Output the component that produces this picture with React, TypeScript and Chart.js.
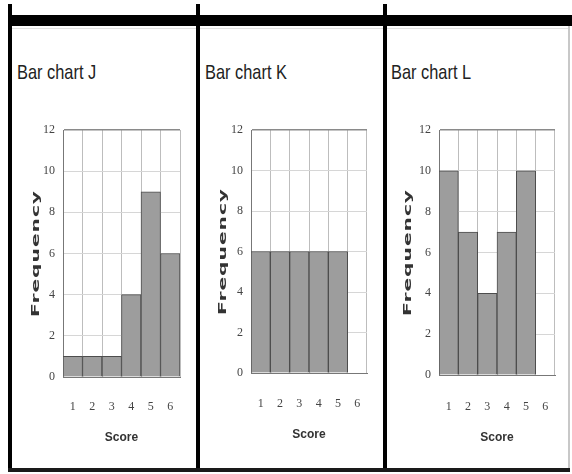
import React, { useEffect, useRef } from "react";
import { Chart, registerables } from "chart.js";

Chart.register(...registerables);

// ---- data ----
const scoreLabels = ["1", "2", "3", "4", "5", "6"];
const freqJ = [1, 1, 1, 4, 9, 6];
const freqK = [6, 6, 6, 6, 6, 0];
const freqL = [10, 7, 4, 7, 10, 0];
const yTickValues = [0, 2, 4, 6, 8, 10, 12];
const panelTitles = ["Bar chart J", "Bar chart K", "Bar chart L"];
const xAxisTitle = "Score";
const yAxisTitle = "Frequency";

// ---- layout (page pixels) ----
type Geom = {
  cLeft: number; cTop: number; cW: number; cH: number;
  pL: number; pR: number; pT: number; pB: number;
  fx: number; tickY: number; scoreY: number; titleX: number;
};
const geoms: Geom[] = [
  { cLeft: 13, cTop: 110, cW: 180, cH: 345, pL: 63, pR: 180, pT: 130, pB: 377, fx: 36, tickY: 407, scoreY: 438, titleX: 17 },
  { cLeft: 201, cTop: 110, cW: 180, cH: 345, pL: 251, pR: 367, pT: 130, pB: 373, fx: 223, tickY: 404, scoreY: 435, titleX: 205 },
  { cLeft: 388, cTop: 110, cW: 180, cH: 345, pL: 439, pR: 555, pT: 130, pB: 375, fx: 408, tickY: 407, scoreY: 438, titleX: 391 },
];

const TICK_FONT = { family: "'Liberation Serif', 'DejaVu Serif', serif", size: 12 };
const SCORE_FONT = { family: "'Liberation Sans', 'DejaVu Sans', sans-serif", size: 12, weight: "bold" as const };

function BarPanel({ values, g }: { values: number[]; g: Geom }) {
  const ref = useRef<HTMLCanvasElement>(null);
  useEffect(() => {
    const yW = g.pL - g.cLeft;
    const xH = g.cTop + g.cH - g.pB;
    const tickLH = TICK_FONT.size * 1.2;
    const scoreLH = SCORE_FONT.size * 1.2;
    const freqPlugin = {
      id: "freqTitle",
      afterDraw(chart: any) {
        const ctx = chart.ctx as CanvasRenderingContext2D;
        const { top, bottom } = chart.chartArea;
        ctx.save();
        ctx.translate(g.fx - g.cLeft, (top + bottom) / 2);
        ctx.rotate(-Math.PI / 2);
        ctx.font = "bold 11px 'DejaVu Sans', sans-serif";
        (ctx as any).letterSpacing = "0.5px";
        const w = ctx.measureText(yAxisTitle).width;
        ctx.scale(127 / w, 1);
        ctx.fillStyle = "#333";
        ctx.textAlign = "center";
        ctx.textBaseline = "middle";
        ctx.fillText(yAxisTitle, 0, 0);
        ctx.restore();
      },
    };
    const chart = new Chart(ref.current!, {
      type: "bar",
      data: {
        labels: scoreLabels,
        datasets: [
          {
            data: values,
            backgroundColor: "#9d9d9d",
            borderColor: "#4d4d4d",
            borderWidth: 1,
            barPercentage: 1,
            categoryPercentage: 1,
          },
        ],
      },
      options: {
        responsive: false,
        animation: false,
        layout: { padding: { top: g.pT - g.cTop, right: g.cLeft + g.cW - g.pR, left: 0, bottom: 0 } },
        plugins: { legend: { display: false }, tooltip: { enabled: false }, title: { display: false } },
        scales: {
          x: {
            grid: {
              offset: true,
              color: "#bdbdbd",
              drawTicks: true,
              tickLength: g.tickY - g.pB - tickLH / 2,
              tickColor: "rgba(0,0,0,0)",
              lineWidth: 1,
            },
            border: { display: true, color: "#777" },
            ticks: { padding: 0, font: TICK_FONT, color: "#444" },
            title: {
              display: true,
              text: xAxisTitle,
              font: SCORE_FONT,
              color: "#333",
              padding: { top: 0, bottom: g.cTop + g.cH - g.scoreY - scoreLH / 2 },
            },
            afterFit: (s: any) => { s.height = xH; },
          },
          y: {
            min: 0,
            max: 12,
            grid: {
              drawTicks: false,
              color: (c: any) => (c.tick && c.tick.value === 12 ? "#8a8a8a" : "#d6d6d6"),
              lineWidth: (c: any) => (c.tick && c.tick.value === 12 ? 1.5 : 1),
            },
            border: { display: true, color: "#777" },
            ticks: { padding: 8, font: TICK_FONT, color: "#444" },
            afterBuildTicks: (s: any) => { s.ticks = yTickValues.map((v) => ({ value: v })); },
            afterFit: (s: any) => { s.width = yW; },
          },
        },
      },
      plugins: [freqPlugin],
    } as any);
    return () => chart.destroy();
  }, [values, g]);
  return (
    <canvas
      ref={ref}
      width={g.cW}
      height={g.cH}
      style={{ position: "absolute", left: g.cLeft, top: g.cTop }}
    />
  );
}

const titleStyle = (x: number): React.CSSProperties => ({
  position: "absolute",
  left: x,
  top: 61,
  fontFamily: "'Liberation Sans', 'DejaVu Sans', sans-serif",
  fontSize: 21,
  lineHeight: "21px",
  color: "#222",
  whiteSpace: "nowrap",
  transform: "scaleX(0.78)",
  transformOrigin: "left top",
});

const line = (l: number, t: number, w: number, h: number, c: string): React.CSSProperties => ({
  position: "absolute", left: l, top: t, width: w, height: h, background: c,
});

export default function App() {
  const series = [freqJ, freqK, freqL];
  return (
    <div style={{ position: "absolute", left: 0, top: 0, width: 572, height: 474, background: "#fff", overflow: "hidden" }}>
      <div style={line(8, 15, 564, 11, "#000")} />
      <div style={line(12, 28, 556, 1, "#e2e2e2")} />
      <div style={line(8, 4, 4, 468, "#000")} />
      <div style={line(196, 4, 4, 468, "#000")} />
      <div style={line(383, 4, 4, 468, "#000")} />
      <div style={line(568, 26, 2, 446, "#c8c8c8")} />
      <div style={line(8, 468, 562, 4, "#1a1a1a")} />
      {panelTitles.map((t, i) => (
        <div key={t} style={titleStyle(geoms[i].titleX)}>{t}</div>
      ))}
      {series.map((v, i) => (
        <BarPanel key={i} values={v} g={geoms[i]} />
      ))}
    </div>
  );
}
